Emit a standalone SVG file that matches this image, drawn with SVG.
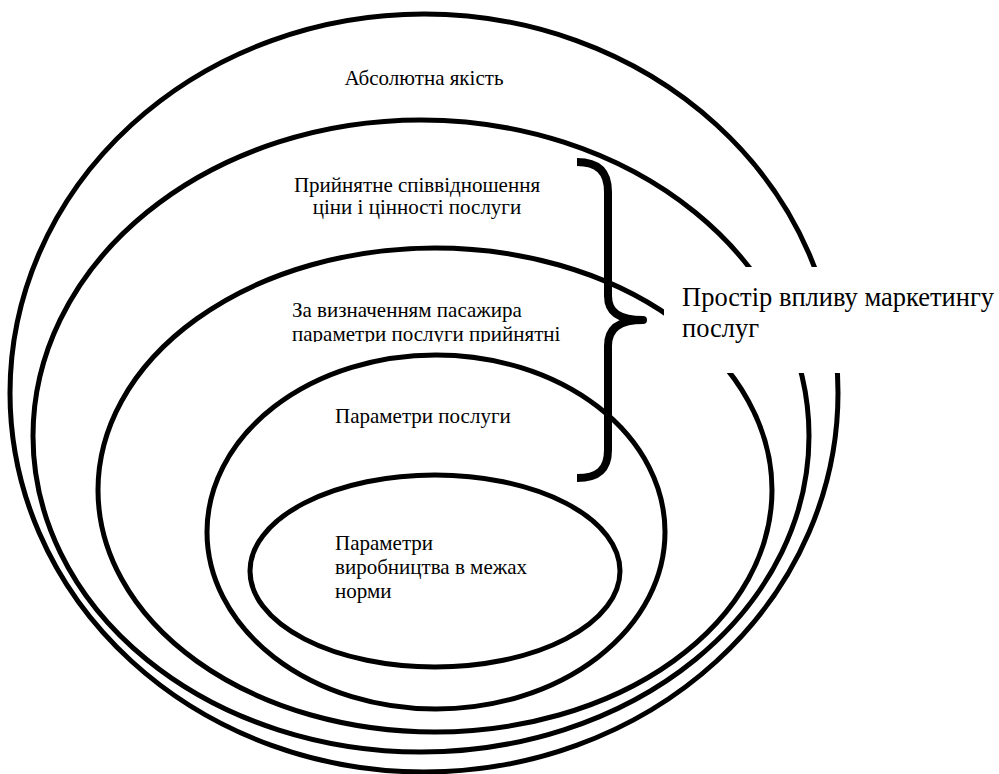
<svg xmlns="http://www.w3.org/2000/svg" width="999" height="774" viewBox="0 0 999 774">
  <style>
    .ring { fill: none; stroke: #000; stroke-width: 5; }
    .t { font-family: "Liberation Serif", "DejaVu Serif", serif; font-size: 21px; fill: #000; }
    .lbl { font-family: "Liberation Serif", "DejaVu Serif", serif; font-size: 26.5px; fill: #000; }
    .brace { fill: none; stroke: #000; stroke-width: 8; stroke-linejoin: round; }
  </style>
  <defs>
    <clipPath id="clipText3">
      <rect x="280" y="290" width="320" height="52"/>
    </clipPath>
  </defs>
  <rect width="999" height="774" fill="#fff"/>

  <g id="absolute-quality">
    <ellipse class="ring" cx="424" cy="393" rx="414" ry="379"/>
    <text class="t" x="424" y="85" text-anchor="middle">Абсолютна якість</text>
  </g>

  <g id="price-value">
    <ellipse class="ring" cx="421" cy="436" rx="388" ry="316"/>
    <text class="t" x="417" y="192" text-anchor="middle">Прийнятне співвідношення</text>
    <text class="t" x="417" y="214" text-anchor="middle">ціни і цінності послуги</text>
  </g>

  <g id="passenger-acceptable">
    <ellipse class="ring" cx="435" cy="490" rx="337" ry="242"/>
    <g clip-path="url(#clipText3)">
      <text class="t" x="292" y="317">За визначенням пасажира</text>
      <text class="t" x="292" y="341">параметри послуги прийнятні</text>
    </g>
  </g>

  <g id="service-parameters">
    <ellipse class="ring" cx="436" cy="532" rx="229" ry="177"/>
    <text class="t" x="335" y="423">Параметри послуги</text>
  </g>

  <g id="production-parameters">
    <ellipse class="ring" cx="435" cy="571" rx="185" ry="96"/>
    <text class="t" x="335" y="550">Параметри</text>
    <text class="t" x="335" y="574">виробництва в межах</text>
    <text class="t" x="335" y="598">норми</text>
  </g>

  <g id="connectors">
    <path class="brace" d="M577,162 C598,162 608,172 608,192 L608,296 C608,313 620,320 643,320 C620,320 608,328 608,346 L608,450 C608,470 598,478 577,478"/>
  </g>

  <g id="marketing-space">
    <rect x="664" y="267" width="335" height="106" fill="#fff"/>
    <text class="lbl" x="682" y="306">Простір впливу маркетингу</text>
    <text class="lbl" x="682" y="337">послуг</text>
  </g>
</svg>
